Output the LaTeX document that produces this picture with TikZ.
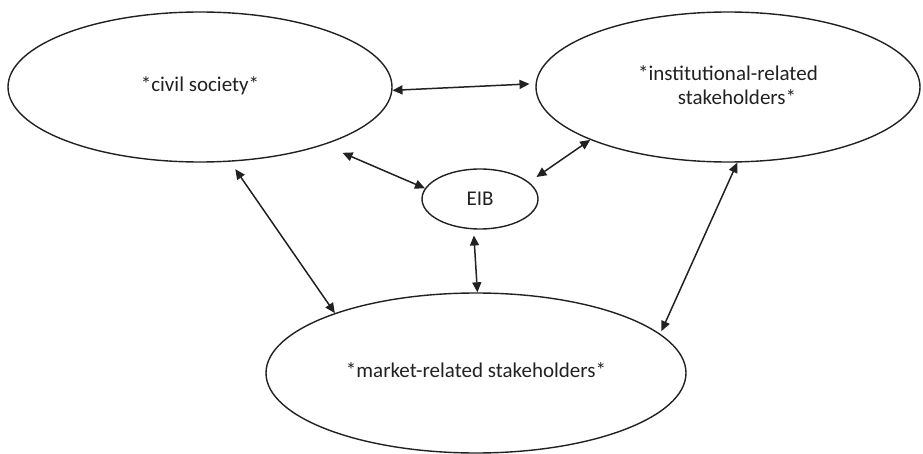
\documentclass[tikz,border=0pt]{standalone}
\usepackage{fontspec}
\setmainfont{Carlito}
\usepackage{xcolor}
\usetikzlibrary{shapes.geometric, arrows.meta}

\definecolor{ink}{gray}{0.13}

\tikzset{
  actor/.style={draw=ink, ellipse, line width=1.4pt, inner sep=0pt,
    align=center, text=ink, font=\fontsize{21}{24}\selectfont},
  link/.style={{Triangle[length=10pt,width=9pt]}-{Triangle[length=10pt,width=9pt]},
    draw=ink, line width=1.5pt}
}

\begin{document}
\begin{tikzpicture}[x=1pt, y=1pt]
  \useasboundingbox (0,0) rectangle (923,453);

  \node [actor, minimum width=384pt, minimum height=150pt] (civil) at (200,366)
  {\raisebox{6pt}{*civil society*}};%
  \node [actor, minimum width=384pt, minimum height=150pt] (inst) at (728,366)
  {\raisebox{3pt}{*institutional-related}\\ \raisebox{3pt}{\hspace{18pt}stakeholders*}};%
  \node [actor, minimum width=116pt, minimum height=60pt] (eib) at (480,254)
  {EIB};%
  \node [actor, minimum width=420pt, minimum height=160pt] (market) at (476,80)
  {\raisebox{6pt}{*market-related stakeholders*}};%

  \draw [link, shorten >=6pt] (civil.-1) -- (inst.179);%
  \draw [link, shorten <=20pt] (civil.-25) -- (eib.169);%
  \draw [link, shorten >=9pt] (inst.201) -- (eib.19);%
  \draw [link, shorten <=6pt] (eib.258) -- (market.89);%
  \draw [link, shorten <=9pt] (civil.-68) -- (market.157);%
  \draw [link, shorten >=3pt] (inst.-83) -- (market.12);%

\end{tikzpicture}
\end{document}
